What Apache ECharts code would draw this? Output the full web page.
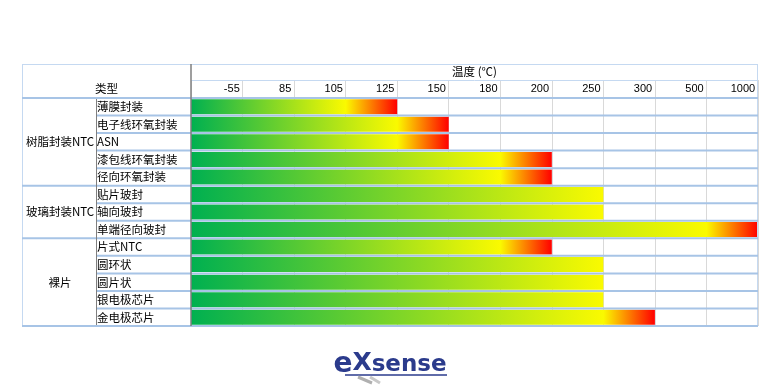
<!DOCTYPE html>
<html><head><meta charset="utf-8">
<script src="https://cdn.jsdelivr.net/npm/echarts@6/dist/echarts.min.js"></script>
<style>html,body{margin:0;padding:0;background:#fff}#c{width:780px;height:390px}</style>
</head><body><div id="c"></div>
<script>
const tempTicks = ['-55','85','105','125','150','180','200','250','300','500','1000'];
const rowLabels = ['薄膜封装','电子线环氧封装','ASN','漆包线环氧封装','径向环氧封装','贴片玻封','轴向玻封','单端径向玻封','片式NTC','圆环状','圆片状','银电极芯片','金电极芯片'];
const rowMaxTemp = ['125','150','150','200','200','250','250','1000','200','250','250','250','300'];
const groupNames = ['树脂封装NTC','玻璃封装NTC','裸片'];
const groupSizes = [5,3,5];
const axisTitle = '温度 (℃)';
const headerLabel = '类型';
const logoText = ['e','X','sense'];

const GREEN = '#00b050', YELLOW = '#fafa00', RED = '#ff0000';
const CJK = '"Noto Sans CJK SC","Noto Sans",sans-serif';

const chart = echarts.init(document.getElementById('c'), null, {renderer:'canvas'});

const barData = rowMaxTemp.map(t => {
  const n = tempTicks.indexOf(t) + 1;
  const yellowEnd = (t === '250');
  const stops = yellowEnd
    ? [{offset:0,color:GREEN},{offset:1,color:YELLOW}]
    : [{offset:0,color:GREEN},{offset:(n-1)/n,color:YELLOW},{offset:1,color:RED}];
  return {value:n, itemStyle:{color:new echarts.graphic.LinearGradient(0,0,1,0,stops)}};
});

chart.setOption({
  animation:false,
  grid:{left:191, right:22, top:98, bottom:64, containLabel:false},
  xAxis:[{
    type:'category', position:'top', data:tempTicks, boundaryGap:true,
    axisLine:{show:false},
    axisTick:{show:true, interval:0, length:18, lineStyle:{color:'#d9d9d9', width:1}},
    axisLabel:{interval:0, margin:4, fontFamily:'"Liberation Sans",Arial,sans-serif', fontSize:11, color:'#000',
      formatter:v=>'{a|'+v+'}', rich:{a:{width:46, align:'right', fontFamily:'"Liberation Sans",Arial,sans-serif', fontSize:11, color:'#000'}}},
    splitLine:{show:true, interval:0, lineStyle:{color:'#d9d9d9', width:1}},
    name:axisTitle, nameLocation:'middle', nameGap:21,
    nameTextStyle:{fontFamily:CJK, fontSize:11.5, color:'#000'}
  },{
    type:'value', min:0, max:11, show:false
  }],
  yAxis:{
    type:'category', inverse:true, data:rowLabels,
    axisLine:{show:false}, axisTick:{show:false}, splitLine:{show:false},
    axisLabel:{interval:0, align:'left', margin:94, fontFamily:CJK, fontSize:11.5, color:'#000'}
  },
  series:[{
    type:'bar', xAxisIndex:1, yAxisIndex:0, barWidth:15, data:barData
  }]
});

const yc = i => chart.convertToPixel({yAxisIndex:0}, i);
const xv = v => chart.convertToPixel({xAxisIndex:1}, v);
const step = yc(1) - yc(0);
const rowTop = i => yc(0) + (i - 0.5) * step;
const xL = 22, xG = 96, x0 = xv(0), xR = xv(11), yTop = 64, yMid = 80;
const yBot = rowTop(rowLabels.length);

const els = [];
const line = (x1,y1,x2,y2,color,w) => els.push({type:'line', z:10, shape:{x1,y1,x2,y2}, style:{stroke:color, lineWidth:w}});
line(xL, yTop+0.5, xR, yTop+0.5, '#c5d9f1', 1);
line(x0, yMid+0.5, xR, yMid+0.5, '#c5d9f1', 1);
line(xL+0.5, yTop, xL+0.5, yBot, '#c5d9f1', 1);
line(xR-0.5, yTop, xR-0.5, yBot, '#c5d9f1', 1);
const groupStarts = [];
let acc = 0; groupSizes.forEach(s=>{groupStarts.push(acc); acc+=s;});
for (let i = 0; i <= rowLabels.length; i++) {
  const y = rowTop(i);
  const isGroup = groupStarts.includes(i) || i === rowLabels.length;
  line(isGroup ? xL : xG, y, xR, y, '#a7c4e6', 2);
}
line(x0, yTop, x0, yBot, '#7f7f7f', 1.5);
line(xG+0.5, rowTop(0)+1, xG+0.5, yBot-1, '#7f7f7f', 1);

els.push({type:'text', z:11, style:{text:headerLabel, x:(xL+x0)/2, y:rowTop(0)-9, align:'center', verticalAlign:'middle', font:'11.5px '+CJK, fill:'#000'}});
groupNames.forEach((g,k)=>{
  const s = groupStarts[k], e = s + groupSizes[k];
  const y = (rowTop(s)+rowTop(e))/2;
  els.push({type:'text', z:11, style:{text:g, x:(xL+xG)/2+1, y:y, align:'center', verticalAlign:'middle', font:'11.5px '+CJK, fill:'#000'}});
});
els.push({type:'text', z:11, style:{
  text:'{e|'+logoText[0]+'}{x|'+logoText[1]+'}{s|'+logoText[2]+'}', x:390, y:365, align:'center', verticalAlign:'middle',
  rich:{
    e:{font:'bold 28px "DejaVu Sans",sans-serif', fill:'#2b3b8c'},
    x:{font:'bold 25px "DejaVu Sans",sans-serif', fill:'#2b3b8c', verticalAlign:'top'},
    s:{font:'bold 23px "DejaVu Sans",sans-serif', fill:'#2b3b8c'}
  }}});
line(345, 375, 447, 375, '#2b3b8c', 1.5);
line(358, 377, 372, 383, '#b0b0b0', 3);
line(370, 377, 380, 383, '#c8c8c8', 3);

chart.setOption({graphic:els});
</script></body></html>
